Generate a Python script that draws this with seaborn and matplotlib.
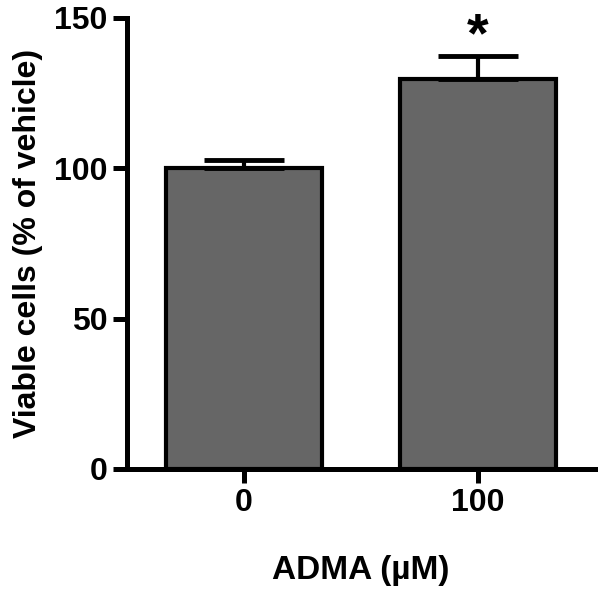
import matplotlib
matplotlib.use('Agg')
import matplotlib.pyplot as plt
import seaborn as sns
import pandas as pd

# values
doses = ['0', '100']
means = [100.0, 129.7]
sems = [2.8, 7.7]
yticks = [0, 50, 100, 150]

sns.set_style('ticks')
plt.rcParams['font.family'] = ['Liberation Sans', 'DejaVu Sans']
plt.rcParams['font.weight'] = 'bold'
for key in ['text.color', 'axes.labelcolor', 'xtick.color', 'ytick.color', 'axes.edgecolor']:
    plt.rcParams[key] = 'black'

df = pd.DataFrame({'dose': doses, 'viable': means})

fig = plt.figure(figsize=(6.0, 5.92), dpi=100)
ax = fig.add_axes([0.2117, 0.2078, 0.7800, 0.7618])

sns.barplot(data=df, x='dose', y='viable', color='#666666', width=0.67,
            edgecolor='black', linewidth=3, saturation=1, errorbar=None, ax=ax)

# upper error bars only
ax.errorbar(range(len(doses)), means, yerr=[[0] * len(sems), sems],
            fmt='none', ecolor='black', elinewidth=3, capsize=29,
            capthick=3.5, zorder=1)

# significance mark
ax.text(1, means[1] + sems[1] - 2.5, '*', ha='center', va='bottom',
        fontsize=40, fontweight='bold', clip_on=False)

ax.set_ylim(0, 150)
ax.set_xlim(-0.5, 1.5)
ax.set_yticks(yticks)
ax.set_xlabel('ADMA (µM)', fontsize=24, fontweight='bold', labelpad=26)
ax.set_ylabel('Viable cells (% of vehicle)', fontsize=23, fontweight='bold', labelpad=8)
ax.tick_params(axis='both', labelsize=23, width=3.6, length=10, pad=4)
for lab in ax.get_xticklabels() + ax.get_yticklabels():
    lab.set_fontweight('bold')

sns.despine(ax=ax)
for side in ['left', 'bottom']:
    ax.spines[side].set_linewidth(3.6)
    ax.spines[side].set_capstyle('projecting')

fig.savefig('out.png', dpi=100)
